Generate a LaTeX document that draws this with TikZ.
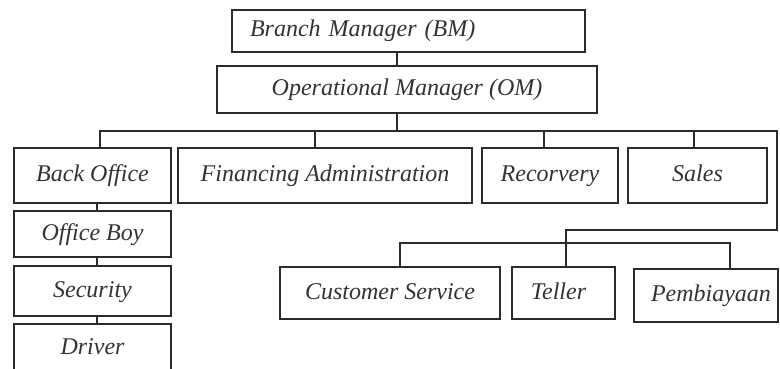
\documentclass[tikz,border=0pt]{standalone}
\usepackage{fontspec}
\setmainfont{Liberation Serif}
\definecolor{linegray}{HTML}{2B2B2B}
\definecolor{textgray}{HTML}{333333}
\tikzset{
	box/.style={draw=linegray, line width=1.6pt, inner sep=0pt, text=textgray,
		text height=17pt, text depth=5pt,
		font=\fontsize{24}{28}\selectfont\itshape},
	link/.style={draw=linegray, line width=1.6pt}
}
\begin{document}
\begin{tikzpicture}[x=1pt, y=-1pt]
		\useasboundingbox (0,0) rectangle (780,369);
		\node[box, inner xsep=18pt, text width=317pt, align=left, minimum height=42pt] (bm) at (408.5,31) {Branch Manager (BM)};
		\node[box, minimum width=380pt, minimum height=47pt] (om) at (407,89.5) {Operational Manager (OM)};
		\node[box, minimum width=157pt, minimum height=55pt] (back) at (92.5,175.5) {Back Office};
		\node[box, minimum width=294pt, minimum height=55pt] (fin) at (325,175.5) {Financing Administration};
		\node[box, minimum width=136pt, minimum height=55pt] (rec) at (550,175.5) {Recorvery};
		\node[box, minimum width=139pt, minimum height=55pt] (sales) at (697.5,175.5) {Sales};
		\node[box, minimum width=157pt, minimum height=46pt] (boy) at (92.5,234) {Office Boy};
		\node[box, minimum width=157pt, minimum height=50pt] (sec) at (92.5,291) {Security};
		\node[box, minimum width=157pt, minimum height=48pt] (driver) at (92.5,348) {Driver};
		\node[box, minimum width=220pt, minimum height=52pt] (cs) at (390,293) {Customer Service};
		\node[box, minimum width=103pt, minimum height=52pt] (teller) at (563.5,293) {Teller\hspace*{10pt}};
		\node[box, minimum width=144pt, minimum height=53pt] (pem) at (706,295.5) {\hspace*{10pt}Pembiayaan};
		\coordinate (bus) at (397,131);
		\coordinate (busR) at (777,131);
		\coordinate (turn) at (777,230);
		\coordinate (bus2) at (0,243);
		% top
		\draw[link] (bm.south -| bus) -- (om.north -| bus);
		\draw[link] (om.south -| bus) -- (bus);
		\draw[link] ([xshift=7.5pt]back.north) |- (busR) -- (turn) -| ([xshift=2.5pt]teller.north);
		\draw[link] ([xshift=-10pt]fin.north) -- ([xshift=-10pt]fin.north |- bus);
		\draw[link] ([xshift=-6pt]rec.north) -- ([xshift=-6pt]rec.north |- bus);
		\draw[link] ([xshift=-3.5pt]sales.north) -- ([xshift=-3.5pt]sales.north |- bus);
		% back office staff
		\draw[link] ([xshift=4.5pt]back.south) -- ([xshift=4.5pt]boy.north);
		\draw[link] ([xshift=4.5pt]boy.south) -- ([xshift=4.5pt]sec.north);
		\draw[link] ([xshift=4.5pt]sec.south) -- ([xshift=4.5pt]driver.north);
		% front office
		\draw[link] ([xshift=10pt]cs.north) |- ([xshift=24pt]pem.north |- bus2) -- ([xshift=24pt]pem.north);
\end{tikzpicture}
\end{document}
